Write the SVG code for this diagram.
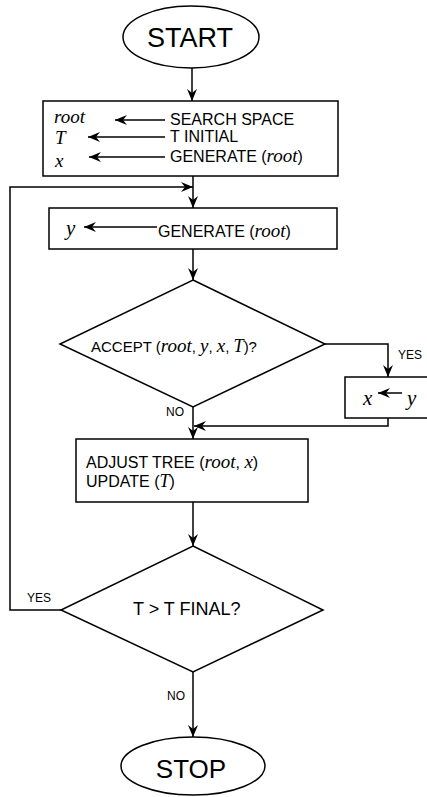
<svg xmlns="http://www.w3.org/2000/svg" width="427" height="797" viewBox="0 0 427 797">
<style>
.shape{fill:#fff;stroke:#000;stroke-width:1.5}
.line{fill:none;stroke:#000;stroke-width:1.5}
.sans{font-family:"Liberation Sans",Arial,sans-serif;fill:#000}
.ital{font-family:"Liberation Serif","Times New Roman",serif;font-style:italic;fill:#000}
.lbl{font-family:"Liberation Sans",Arial,sans-serif;font-size:12px;fill:#000}
</style>
<defs>
<marker id="arr" markerUnits="userSpaceOnUse" markerWidth="14" markerHeight="12" refX="12" refY="5" orient="auto">
<path d="M0,0 L12,5 L0,10 L4,5 z" fill="#000"/>
</marker>
</defs>
<rect width="427" height="797" fill="#fff"/>
<g id="connectors">
<path class="line" d="M192,68 V101" marker-end="url(#arr)"/>
<path class="line" d="M193,176 V208" marker-end="url(#arr)"/>
<path class="line" d="M61,610 H10 V187 H193" marker-end="url(#arr)"/>
<path class="line" d="M193,249 V280" marker-end="url(#arr)"/>
<path class="line" d="M325,344 H388 V377" marker-end="url(#arr)"/>
<path class="line" d="M193,407 V439" marker-end="url(#arr)"/>
<path class="line" d="M388,418 V426 H194" marker-end="url(#arr)"/>
<path class="line" d="M193,502 V546" marker-end="url(#arr)"/>
<path class="line" d="M193,672 V737" marker-end="url(#arr)"/>
<text class="lbl" x="398" y="359">YES</text>
<text class="lbl" x="166" y="416">NO</text>
<text class="lbl" x="27" y="602">YES</text>
<text class="lbl" x="167" y="700">NO</text>
</g>
<g id="start">
<ellipse class="shape" cx="191" cy="37" rx="68" ry="31"/>
<text class="sans" x="190" y="47" font-size="27" text-anchor="middle">START</text>
</g>
<g id="init">
<rect class="shape" x="43" y="101" width="295" height="75"/>
<text class="ital" x="54" y="123" font-size="19">root</text>
<text class="ital" x="55" y="144" font-size="19">T</text>
<text class="ital" x="55" y="167" font-size="19">x</text>
<path class="line" d="M165,120 H115" marker-end="url(#arr)"/>
<path class="line" d="M165,137 H88" marker-end="url(#arr)"/>
<path class="line" d="M165,157 H89" marker-end="url(#arr)"/>
<text class="sans" x="170" y="125" font-size="16">SEARCH SPACE</text>
<text class="sans" x="170" y="142" font-size="16">T INITIAL</text>
<text class="sans" x="170" y="162" font-size="16">GENERATE (<tspan class="ital" font-size="19">root</tspan>)</text>
</g>
<g id="generate">
<rect class="shape" x="49" y="208" width="288" height="41"/>
<text class="ital" x="66" y="235" font-size="21">y</text>
<path class="line" d="M157,227 H84" marker-end="url(#arr)"/>
<text class="sans" x="158" y="237" font-size="16">GENERATE (<tspan class="ital" font-size="19">root</tspan>)</text>
</g>
<g id="accept">
<polygon class="shape" points="193,280 325,344 193,407 60,344"/>
<text class="sans" x="91" y="352" font-size="15">ACCEPT (<tspan class="ital" font-size="19">root</tspan>, <tspan class="ital" font-size="19">y</tspan>, <tspan class="ital" font-size="19">x</tspan>, <tspan class="ital" font-size="18">T</tspan>)?</text>
</g>
<g id="assign">
<rect class="shape" x="345" y="377" width="90" height="41"/>
<text class="ital" x="363" y="405" font-size="21">x</text>
<path class="line" d="M402,393 H378" marker-end="url(#arr)"/>
<text class="ital" x="407" y="405" font-size="21">y</text>
</g>
<g id="adjust">
<rect class="shape" x="76" y="439" width="232" height="63"/>
<text class="sans" x="86" y="468" font-size="16">ADJUST TREE (<tspan class="ital" font-size="19">root</tspan>, <tspan class="ital" font-size="19">x</tspan>)</text>
<text class="sans" x="86" y="487" font-size="16">UPDATE (<tspan class="ital" font-size="18">T</tspan>)</text>
</g>
<g id="final">
<polygon class="shape" points="193,546 323,610 193,672 61,610"/>
<text class="sans" x="133" y="615" font-size="18">T &gt; T FINAL?</text>
</g>
<g id="stop">
<ellipse class="shape" cx="193" cy="766" rx="72" ry="29"/>
<text class="sans" x="191" y="778" font-size="26" text-anchor="middle">STOP</text>
</g>
</svg>
